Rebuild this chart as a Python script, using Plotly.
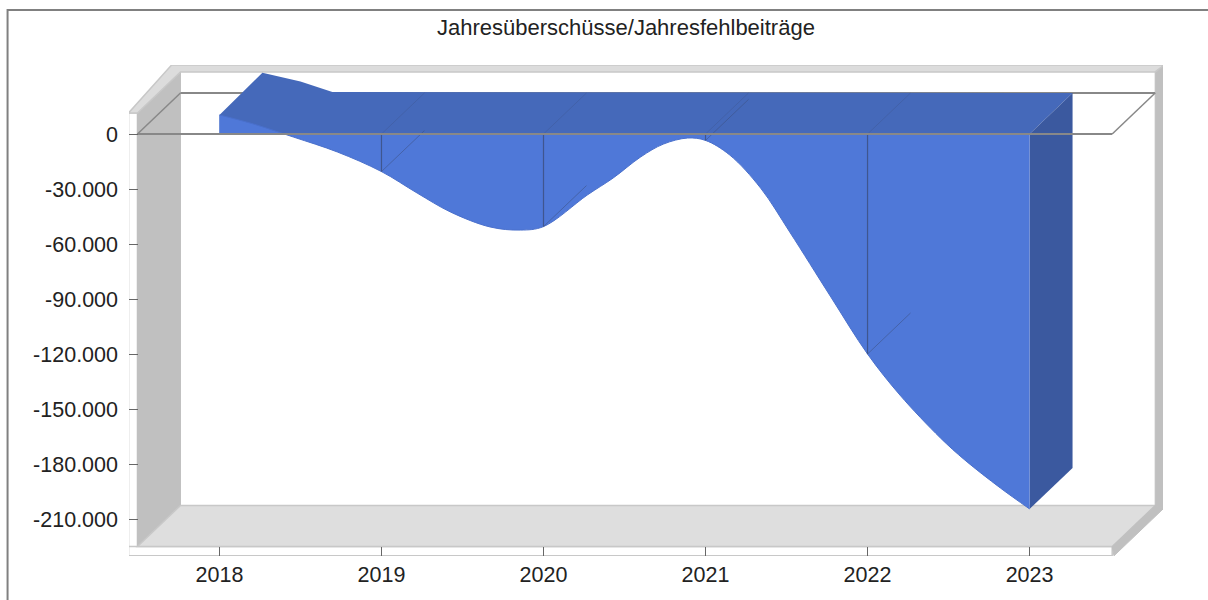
import plotly.graph_objects as go

# ---- data ----
years = [2018, 2019, 2020, 2021, 2022, 2023]
values = [10400, -20500, -50500, -3500, -120000, -204500]
y_ticks = [0, -30000, -60000, -90000, -120000, -150000, -180000, -210000]
y_labels = ["0", "-30.000", "-60.000", "-90.000", "-120.000", "-150.000", "-180.000", "-210.000"]
title = "Jahresüberschüsse/Jahresfehlbeiträge"
# the smoothed outline
curve_x = [2018.0, 2018.21, 2018.456, 2018.728, 2019.0, 2019.22, 2019.425, 2019.67, 2019.857, 2020.0,
           2020.27, 2020.43, 2020.6, 2020.74, 2020.89, 2021.0, 2021.15, 2021.34, 2021.52,
           2021.77, 2022.0, 2022.2, 2022.45, 2022.6, 2022.82, 2023.0]
curve_y = [10400, 5450, -1640, -9820, -20500, -32200, -42500, -50700, -52400, -50500,
           -33300, -24000, -12500, -5500, -2200, -3500, -11500, -29500, -53500,
           -88400, -120000, -142400, -165800, -177800, -193100, -204500]
# far edge of the top face while it stands above the zero level
ridge_x = [2018.265, 2018.5, 2018.697]
ridge_y = [33400, 28600, 22900]

# ---- pseudo-3D geometry in data units ----
X_L, X_R = 2017.494, 2023.51   # front plane
Y_T, Y_B = 11500, -225000      # front plane
DX, DY = 0.2653, 22364         # depth offset
EX, EY = 0.055, 3400           # wall thickness

C_FRONT = "#4f78d8"
C_TOP = "#4569ba"
C_SIDE = "#3b599f"
C_LINE = "rgba(60,80,130,0.85)"
C_LINE2 = "rgba(60,80,130,0.55)"
C_LINE3 = "rgba(60,80,130,0.3)"
C_WALL = "#c0c0c0"
C_FLOOR = "#dedede"
C_EDGE = "#c8c8c8"
C_ZERO = "#888888"

W, H = 1208, 600
L, R, T, B = 128.5, 1163, 65, 556
xrange_ = [2018 - (219 - L) / 162.1, 2018 + (R - 219) / 162.1]
yrange_ = [(134 - B) * 30000 / 55, (134 - T) * 30000 / 55]

def path(pts):
    return "M" + " L".join(f"{x},{y}" for x, y in pts) + " Z"

def poly(pts, fill, line=None, width=1, layer="below"):
    return dict(type="path", path=path(pts), xref="x", yref="y", layer=layer,
                fillcolor=fill, line=dict(color=line or fill, width=width))

def seg(x0, y0, x1, y1, color, width=1, layer="below"):
    return dict(type="line", x0=x0, y0=y0, x1=x1, y1=y1, xref="x", yref="y",
                layer=layer, line=dict(color=color, width=width))

bx_l, bx_r, by_t, by_b = X_L + DX, X_R + DX, Y_T + DY, Y_B + DY
low = Y_B - EY * 1.5
# outer border, left and top only, in paper units
px_l, py_t = (7 - L) / (R - L), 1 + (T - 10) / (B - T)
px_r, py_b = (W - L) / (R - L), -(H - B) / (B - T)

shapes = [
    # left strip and bottom strip
    poly([(X_L - EX, Y_T), (X_L, Y_T), (X_L, low), (X_L - EX, low)], "#ffffff", C_EDGE, 1.5),
    poly([(X_L - EX, Y_B), (X_R, Y_B), (X_R, low), (X_L - EX, low)], "#ffffff", C_EDGE, 1.5),
    # walls
    poly([(X_L, Y_T), (bx_l, by_t), (bx_l, by_b), (X_L, Y_B)], C_WALL),
    poly([(X_L, Y_B), (bx_l, by_b), (bx_r, by_b), (X_R, Y_B)], C_FLOOR, C_EDGE, 1.5),
    poly([(bx_r, by_t + EY * 1.1), (bx_r + EX, by_t + EY * 1.1), (bx_r + EX, by_b - EY * 0.4), (bx_r, by_b)], C_WALL),
    poly([(bx_r, by_b), (bx_r + EX, by_b - EY * 0.4), (X_R + EX * 0.2, low), (X_R, Y_B)], C_WALL),
    poly([(X_L - EX, Y_T), (bx_l - EX, by_t + EY * 1.1), (bx_r + EX, by_t + EY * 1.1), (bx_r, by_t), (bx_l, by_t), (X_L, Y_T)], "#dcdcdc", C_EDGE, 1.5),
    # zero plane, back part
    seg(X_L, 0, bx_l, DY, C_ZERO, 1.5),
    seg(bx_l, DY, bx_r, DY, C_ZERO, 2),
    seg(bx_r, DY, X_R, 0, C_ZERO, 1.5),
    # outer border
    dict(type="path", xref="paper", yref="paper",
         path=f"M{px_l},{py_b} L{px_l},{py_t} L{px_r},{py_t}",
         line=dict(color="#808080", width=2), layer="below"),
]

top_x = [years[0]] + ridge_x + [years[-1] + DX, years[-1], years[0]]
top_y = [values[0]] + ridge_y + [DY, 0, 0]

fig = go.Figure()
# top face
fig.add_trace(go.Scatter(x=top_x, y=top_y, mode="lines", fill="toself", fillcolor=C_TOP,
                         line=dict(width=0), hoverinfo="skip", showlegend=False))
# right side face
fig.add_trace(go.Scatter(x=[years[-1], years[-1] + DX, years[-1] + DX, years[-1]],
                         y=[0, DY, values[-1] + DY, values[-1]],
                         mode="lines", fill="toself", fillcolor=C_SIDE, line=dict(width=0),
                         hoverinfo="skip", showlegend=False))
# faint depth lines on the top face
for yr in years[1:-1]:
    fig.add_trace(go.Scatter(x=[yr, yr + DX], y=[0, DY], mode="lines", line=dict(color=C_LINE3, width=1),
                             hoverinfo="skip", showlegend=False))
# front area
fig.add_trace(go.Scatter(x=curve_x, y=curve_y, mode="lines", fill="tozeroy", fillcolor=C_FRONT,
                         line=dict(color="#4a70cc", width=1, shape="spline", smoothing=1.0),
                         hoverinfo="skip", showlegend=False))
# year verticals and depth lines on the front area
for yr, v in zip(years[1:-1], values[1:-1]):
    fig.add_trace(go.Scatter(x=[yr, yr], y=[0, v], mode="lines", line=dict(color=C_LINE, width=1.2),
                             hoverinfo="skip", showlegend=False))
    fig.add_trace(go.Scatter(x=[yr, yr + DX], y=[v, v + DY], mode="lines", line=dict(color=C_LINE2, width=1),
                             hoverinfo="skip", showlegend=False))
# front zero line
fig.add_trace(go.Scatter(x=[X_L, X_R], y=[0, 0], mode="lines", line=dict(color=C_ZERO, width=2),
                         hoverinfo="skip", showlegend=False))

fig.update_layout(
    width=W, height=H, margin=dict(l=L, r=W - R, t=T, b=H - B, autoexpand=False),
    paper_bgcolor="white", plot_bgcolor="white", showlegend=False,
    font=dict(family="Liberation Sans", size=21.5, color="#222222"),
    shapes=shapes,
    annotations=[dict(text=title, xref="paper", yref="paper", x=(626 - L) / (R - L),
                      y=1 + (T - 27) / (B - T), xanchor="center", yanchor="middle",
                      showarrow=False, font=dict(family="Liberation Sans", size=22, color="#222222"))],
)
fig.update_xaxes(range=xrange_, tickvals=years, ticktext=[str(y) for y in years], ticks="inside",
                 ticklen=9, tickwidth=1, tickcolor="#666666", showgrid=False, zeroline=False,
                 showline=False, ticklabelstandoff=3, fixedrange=True, automargin=False)
fig.update_yaxes(range=yrange_, tickvals=y_ticks, ticktext=y_labels, ticks="inside",
                 ticklen=9, tickwidth=1, tickcolor="#666666", showgrid=False, zeroline=False,
                 showline=False, ticklabelstandoff=10, fixedrange=True, automargin=False)
fig.write_html("out.html", config=dict(displayModeBar=False),
               post_script="document.body.style.margin='0';document.body.style.overflow='hidden';")
